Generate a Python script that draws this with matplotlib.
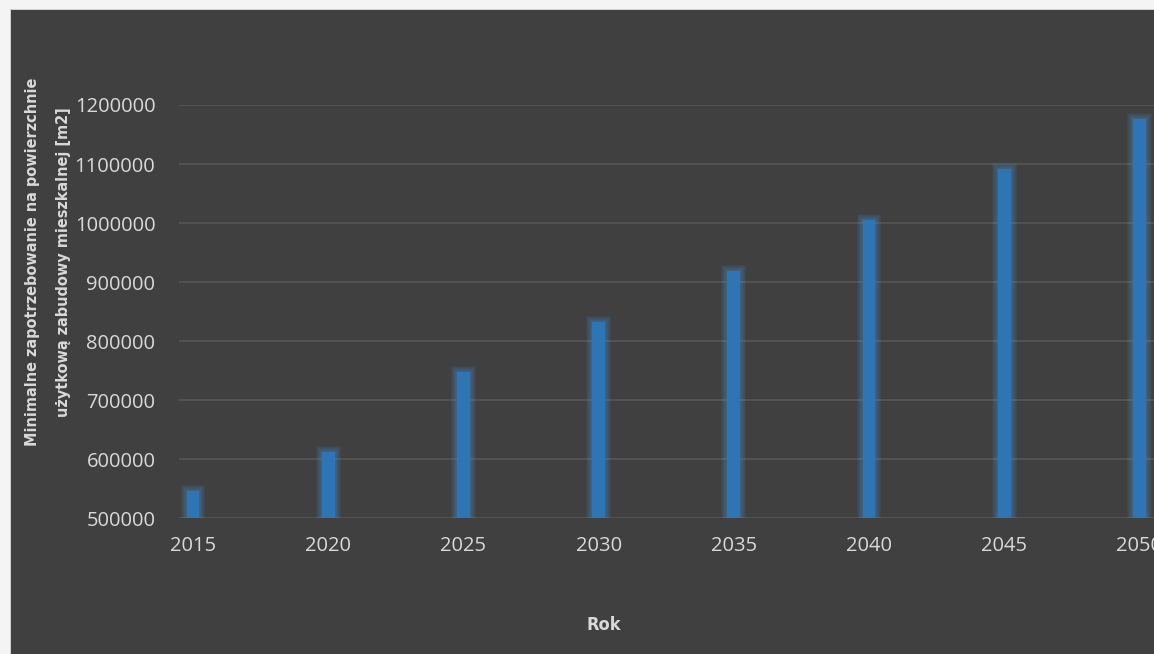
import matplotlib
matplotlib.use('Agg')
import matplotlib.pyplot as plt
from matplotlib.patches import Rectangle
import numpy as np

# data
years = ['2015', '2020', '2025', '2030', '2035', '2040', '2045', '2050']
area_m2 = [546000, 613000, 747500, 833000, 919000, 1004500, 1091000, 1177000]
y_ticks = [500000, 600000, 700000, 800000, 900000, 1000000, 1100000, 1200000]

bg = '#404040'
bar_color = '#2e75b6'
glow_color = '#4a8fd0'
text_color = '#d9d9d9'
grid_color = '#555555'

fig = plt.figure(figsize=(11.54, 6.54), dpi=100)
fig.patch.set_facecolor('#f4f4f4')

# dark chart area with thin light frame, on its own background axes
ax_bg = fig.add_axes([0, 0, 1, 1], zorder=-1)
ax_bg.set_xlim(0, 1154)
ax_bg.set_ylim(654, 0)
ax_bg.axis('off')
ax_bg.add_patch(Rectangle((10, 9), 1154, 654, facecolor='#d0d0d0', edgecolor='none'))
ax_bg.add_patch(Rectangle((11, 10), 1154, 654, facecolor=bg, edgecolor='none'))

ax = fig.add_axes([179 / 1154, (654 - 518.3) / 654, 975 / 1154, (518.3 - 105) / 654])
ax.set_facecolor('none')

x = np.arange(len(years))
bar_w = 0.096
base = y_ticks[0]
heights = np.array(area_m2) - base

# soft glow around bars (1 px ~ 0.0074 in x, ~1690 in y)
for k in range(6, 0, -1):
    ax.bar(x, heights + 1690 * k, bottom=base, width=bar_w + 2 * 0.0074 * k,
           color=glow_color, alpha=0.09, linewidth=0, zorder=2)
ax.bar(x, heights, bottom=base, width=bar_w, color=bar_color, linewidth=0, zorder=3)

ax.set_xlim(-14 / 135.2, (1154 - 193) / 135.2)
ax.set_ylim(500000, 1200000)
ax.set_yticks(y_ticks)
ax.set_yticklabels([str(v) for v in y_ticks])
ax.set_xticks(x)
ax.set_xticklabels(years)
ax.grid(axis='y', color=grid_color, linewidth=1.3, zorder=1)
ax.set_axisbelow(True)
for s in ax.spines.values():
    s.set_visible(False)
ax.tick_params(axis='both', length=0, colors=text_color, labelsize=14.5)
ax.tick_params(axis='y', pad=17)
ax.tick_params(axis='x', pad=13)
for lbl in ax.get_xticklabels() + ax.get_yticklabels():
    lbl.set_family(['Open Sans', 'DejaVu Sans'])

fig.text(48 / 1154, (654 - 262) / 654,
         'Minimalne zapotrzebowanie na powierzchnie\nużytkową zabudowy mieszkalnej [m2]',
         rotation=90, ha='center', va='center', multialignment='center',
         fontsize=11.6, fontweight='bold', fontstretch='condensed', color=text_color,
         linespacing=2.3, family='DejaVu Sans')
fig.text(604 / 1154, (654 - 625) / 654, 'Rok', ha='center', va='center',
         fontsize=13, fontweight='bold', fontstretch='condensed', color=text_color,
         family='DejaVu Sans')

plt.savefig('out.png', dpi=100, facecolor=fig.get_facecolor())
